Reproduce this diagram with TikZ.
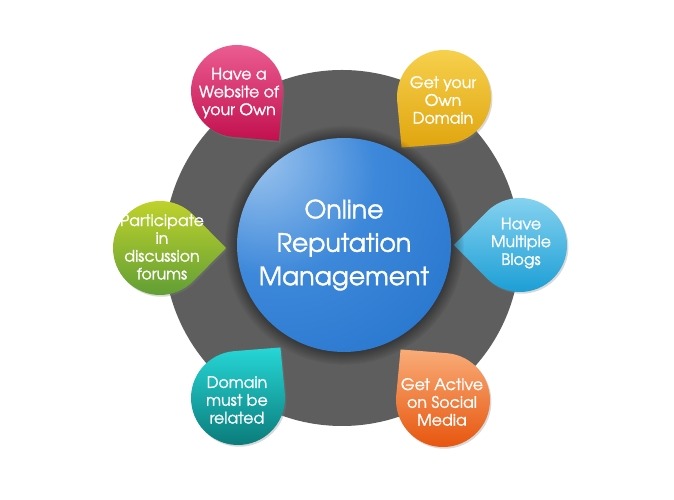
\documentclass[tikz,border=0pt]{standalone}
\usepackage{fontspec}
\setmainfont{texgyreadventor}[Extension=.otf, UprightFont=*-regular, BoldFont=*-regular, BoldFeatures={FakeBold=1.4}]
\usepackage{tikz}
\usetikzlibrary{shadows,fadings}

\definecolor{ringgray}{HTML}{5E5E5E}
\definecolor{ormA}{HTML}{A2C8EF}
\definecolor{ormB}{HTML}{3D88DA}
\definecolor{ormC}{HTML}{2573CD}
\definecolor{ormD}{HTML}{1A5299}
\definecolor{pinkL}{HTML}{EC5E92}
\definecolor{pinkD}{HTML}{C2104E}
\definecolor{yellL}{HTML}{F7D14E}
\definecolor{yellD}{HTML}{E0A50F}
\definecolor{blueL}{HTML}{8AD4F1}
\definecolor{blueD}{HTML}{179CD4}
\definecolor{greenL}{HTML}{C4D42B}
\definecolor{greenD}{HTML}{5C9C36}
\definecolor{tealL}{HTML}{26D6D6}
\definecolor{tealD}{HTML}{0A7A79}
\definecolor{orngL}{HTML}{F9AC78}
\definecolor{orngD}{HTML}{E7540C}

\pgfdeclareradialshading{ormshade}{\pgfpoint{-22bp}{22bp}}{color(0bp)=(ormA); color(24bp)=(ormB); color(50bp)=(ormC); color(82bp)=(ormD); color(100bp)=(ormD)}

\begin{document}
\begin{tikzpicture}[
  x=0.3mm, y=0.3mm,
  bubble/.style={drop shadow={opacity=0.3, shadow xshift=1.2pt, shadow yshift=-1.5pt}, shading angle=25},
  bubtxt/.style={text=white, align=center, inner sep=0pt, font=\bfseries\fontsize{13.5}{15.2}\selectfont},
  hub/.style={circle, minimum size=64.2mm, shade, shading=ormshade, text=white, align=center,
    circular glow={fill=black, opacity=0.55, shadow scale=1.12}, font=\bfseries\fontsize{21.5}{28.5}\selectfont}
]
\useasboundingbox (0,0) rectangle (674,500);

% grey ring behind everything
\fill[ringgray] (342,252) circle[radius=178];

% the six drops
\shade[bubble, shift={(237,409)}, top color=pinkL, bottom color=pinkD] (-50:65) -- (-5:46) arc[start angle=-5, delta angle=270, radius=46] -- cycle;
\shade[bubble, shift={(444,403)}, top color=yellL, bottom color=yellD] (230:66) -- (275:47) arc[start angle=275, delta angle=270, radius=47] -- cycle;
\shade[bubble, shift={(520,255)}, top color=blueL, bottom color=blueD] (180:66) -- (225:47) arc[start angle=225, delta angle=270, radius=47] -- cycle;
\shade[bubble, shift={(160,252)}, top color=greenL, bottom color=greenD] (0:66) -- (45:47) arc[start angle=45, delta angle=270, radius=47] -- cycle;
\shade[bubble, shift={(238,102)}, top color=tealL, bottom color=tealD] (50:66) -- (95:47) arc[start angle=95, delta angle=270, radius=47] -- cycle;
\shade[bubble, shift={(443,100)}, top color=orngL, bottom color=orngD] (130:66) -- (175:47) arc[start angle=175, delta angle=270, radius=47] -- cycle;

\node[hub] (orm) at (344,255) {\raisebox{-3pt}{Online}\\\raisebox{-3pt}{Reputation}\\\raisebox{-3pt}{Management}};

\node[bubtxt] (web) at (239,407) {Have a\\Website of\\your Own};
\node[bubtxt] (domain) at (443,400) {Get your\\Own\\Domain};
\node[bubtxt] (blogs) at (521,257) {Have\\Multiple\\Blogs};
\node[bubtxt] (forums) at (162,253) {Participate\\in\\discussion\\forums};
\node[bubtxt] (related) at (237,100) {Domain\\must be\\related};
\node[bubtxt] (social) at (442,98) {Get Active\\on Social\\Media};

\end{tikzpicture}
\end{document}
